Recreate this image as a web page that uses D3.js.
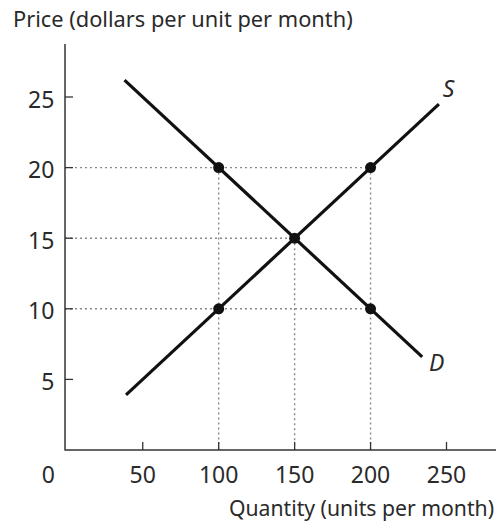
<!DOCTYPE html>
<html><head><meta charset="utf-8">
<script src="https://cdn.jsdelivr.net/npm/d3@7"></script>
<style>body{margin:0;background:#fff}svg{display:block}text{font-family:"Noto Sans",sans-serif;fill:#2a2a2a}</style>
</head><body><svg id="c" width="498" height="524"></svg>
<script>
const xTicks=[50,100,150,200,250];
const yTicks=[5,10,15,20,25];
const supply=[{q:39,p:3.9},{q:245,p:24.5}];
const demand=[{q:38,p:26.2},{q:234,p:6.6}];
const points=[{q:100,p:20},{q:200,p:20},{q:150,p:15},{q:100,p:10},{q:200,p:10}];
const guidesH=[{p:20,q:200},{p:15,q:150},{p:10,q:200}];
const guidesV=[{q:100,p:20},{q:150,p:15},{q:200,p:20}];
const curveLabels=[{name:"S",q:247.5,p:25},{name:"D",q:238.5,p:5.6}];

const svg=d3.select("#c");
const x=d3.scaleLinear().domain([0,250]).range([66.8,446.5]);
const y=d3.scaleLinear().domain([0,25]).range([450,97]);
const x0=65, yAxisTop=44, xAxisRight=496;

// guides
svg.selectAll(".gh").data(guidesH).enter().append("line")
 .attr("x1",x0).attr("x2",d=>x(d.q)).attr("y1",d=>y(d.p)).attr("y2",d=>y(d.p))
 .attr("stroke","#888").attr("stroke-width",1.4).attr("stroke-dasharray","2,3");
svg.selectAll(".gv").data(guidesV).enter().append("line")
 .attr("x1",d=>x(d.q)).attr("x2",d=>x(d.q)).attr("y1",d=>y(d.p)).attr("y2",y(0))
 .attr("stroke","#888").attr("stroke-width",1.4).attr("stroke-dasharray","2,3");

// axes
const g=svg.append("g");
g.append("line").attr("x1",x0).attr("x2",x0).attr("y1",yAxisTop).attr("y2",y(0)+0.5).attr("stroke","#333").attr("stroke-width",1.5);
g.append("line").attr("x1",x0).attr("x2",xAxisRight).attr("y1",y(0)).attr("y2",y(0)).attr("stroke","#333").attr("stroke-width",1.5);
g.selectAll(".xt").data(xTicks).enter().append("line")
 .attr("x1",d=>x(d)).attr("x2",d=>x(d)).attr("y1",y(0)).attr("y2",y(0)-8).attr("stroke","#333").attr("stroke-width",1.3);
g.selectAll(".yt").data(yTicks).enter().append("line")
 .attr("x1",x0).attr("x2",x0+8).attr("y1",d=>y(d)).attr("y2",d=>y(d)).attr("stroke","#333").attr("stroke-width",1.3);
g.selectAll(".xl").data(xTicks).enter().append("text")
 .attr("x",d=>x(d)).attr("y",483).attr("text-anchor","middle").attr("font-size",23).text(d=>d);
g.append("text").attr("x",48.3).attr("y",483).attr("text-anchor","middle").attr("font-size",23).text("0");
g.selectAll(".yl").data(yTicks).enter().append("text")
 .attr("x",54.3).attr("y",d=>y(d)+10.5).attr("text-anchor","end").attr("font-size",23).text(d=>d);

svg.append("text").attr("x",13).attr("y",27).attr("font-size",21.8).text("Price (dollars per unit per month)");
svg.append("text").attr("x",494).attr("y",516).attr("text-anchor","end").attr("font-size",21.2).text("Quantity (units per month)");

// curves
const line=d3.line().x(d=>x(d.q)).y(d=>y(d.p));
svg.append("path").datum(demand).attr("d",line).attr("fill","none").attr("stroke","#111").attr("stroke-width",3.2);
svg.append("path").datum(supply).attr("d",line).attr("fill","none").attr("stroke","#111").attr("stroke-width",3.2);

svg.selectAll(".pt").data(points).enter().append("circle")
 .attr("cx",d=>x(d.q)).attr("cy",d=>y(d.p)).attr("r",5.5).attr("fill","#111");

svg.selectAll(".cl").data(curveLabels).enter().append("text")
 .attr("x",d=>x(d.q)).attr("y",d=>y(d.p)).attr("font-size",23).attr("font-style","italic").text(d=>d.name);
</script></body></html>
